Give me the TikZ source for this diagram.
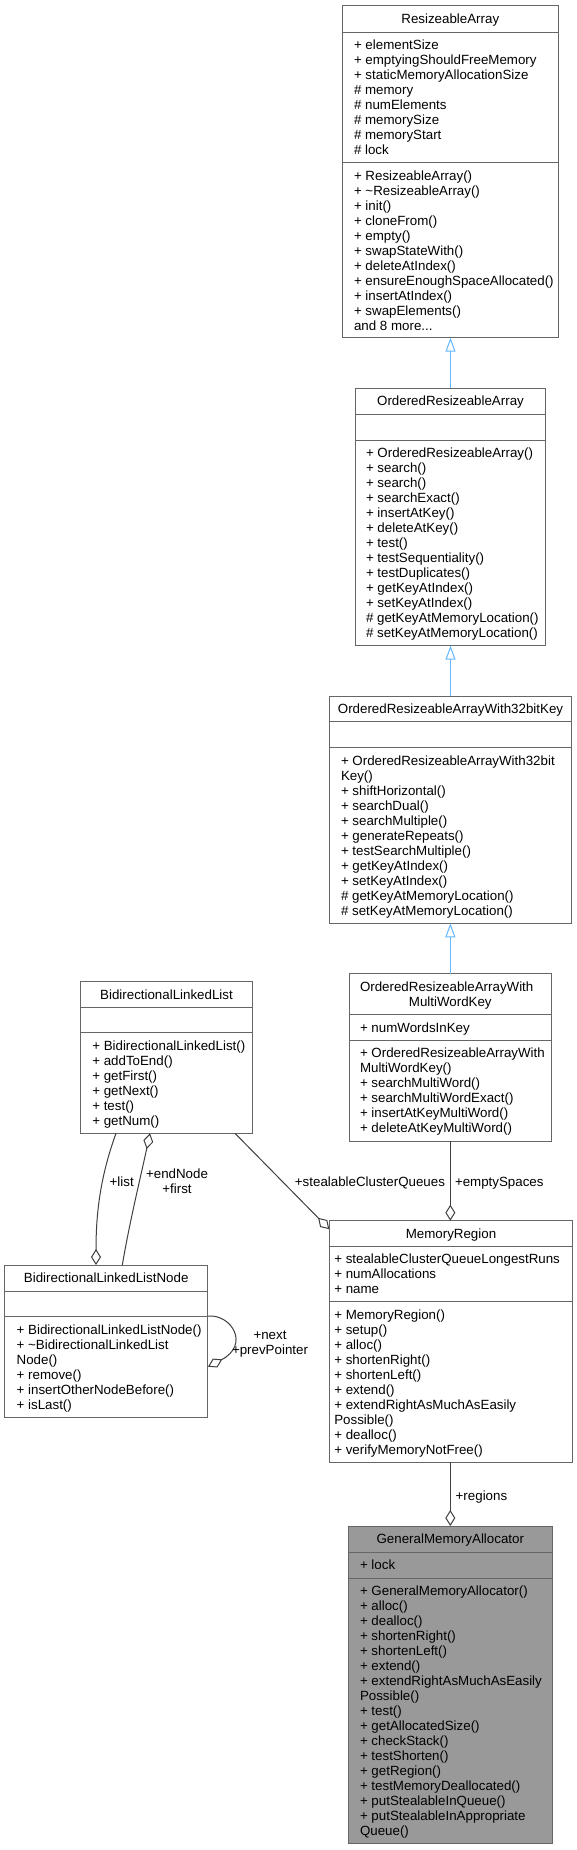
\documentclass[tikz,border=0pt]{standalone}
\usepackage{fontspec}
\setmainfont{Liberation Sans}
\usetikzlibrary{arrows.meta,calc}
\definecolor{boxborder}{HTML}{666666}
\definecolor{inhcol}{HTML}{63B8FF}
\definecolor{aggcol}{HTML}{404040}
\definecolor{gmafill}{HTML}{999999}
\newcommand{\umlrows}[1]{\vtop{\baselineskip=15pt\lineskiplimit=0pt\lineskip=0pt\halign{##\hfil\cr#1\crcr}}}
\newcommand{\ctrrows}[1]{\vtop{\baselineskip=15pt\lineskiplimit=0pt\lineskip=0pt\halign{\hfil##\hfil\cr#1\crcr}}}
\tikzset{
  umlbox/.style={draw=boxborder, line width=1pt, fill=white, rectangle, inner sep=0pt, outer sep=0pt, anchor=north west},
  sepline/.style={draw=boxborder, line width=1pt},
  txt/.style={inner sep=0pt, outer sep=0pt, font=\fontsize{13.33}{15}\selectfont, anchor=base west},
  ttl/.style={inner sep=0pt, outer sep=0pt, font=\fontsize{13.33}{15}\selectfont, anchor=base},
  inh/.style={draw=inhcol, line width=1pt, -{Triangle[open, length=14pt, width=10pt]}},
  agg/.style={draw=aggcol, line width=1pt, -{Diamond[open, length=16pt, width=10pt]}},
}
\begin{document}
\begin{tikzpicture}[x=1pt, y=-1pt]
\useasboundingbox (0,0) rectangle (577,1850);
\fill[white] (0,0) rectangle (577,1850);

% ResizeableArray
\node[umlbox, minimum width=215.3pt, minimum height=332pt] (ra) at (342.7,5.7) {};
\draw[sepline] (342.7,32) -- (558,32);
\draw[sepline] (342.7,162.7) -- (558,162.7);
\node[ttl] (rat) at (450.3,23.2) {ResizeableArray};
\node[txt] (raa) at (354,49.5) {\umlrows{+ elementSize\cr
+ emptyingShouldFreeMemory\cr
+ staticMemoryAllocationSize\cr
\# memory\cr
\# numElements\cr
\# memorySize\cr
\# memoryStart\cr
\# lock}};
\node[txt] (ram) at (354,180.2) {\umlrows{+ ResizeableArray()\cr
+ \textasciitilde ResizeableArray()\cr
+ init()\cr
+ cloneFrom()\cr
+ empty()\cr
+ swapStateWith()\cr
+ deleteAtIndex()\cr
+ ensureEnoughSpaceAllocated()\cr
+ insertAtIndex()\cr
+ swapElements()\cr
and 8 more...}};

% OrderedResizeableArray
\node[umlbox, minimum width=190.4pt, minimum height=257.4pt] (ora) at (355.3,388.3) {};
\draw[sepline] (355.3,414) -- (545.7,414);
\draw[sepline] (355.3,440) -- (545.7,440);
\node[ttl] (orat) at (450.5,405.8) {OrderedResizeableArray};
\node[txt] (oram) at (366,457.5) {\umlrows{+ OrderedResizeableArray()\cr
+ search()\cr
+ search()\cr
+ searchExact()\cr
+ insertAtKey()\cr
+ deleteAtKey()\cr
+ test()\cr
+ testSequentiality()\cr
+ testDuplicates()\cr
+ getKeyAtIndex()\cr
+ setKeyAtIndex()\cr
\# getKeyAtMemoryLocation()\cr
\# setKeyAtMemoryLocation()}};

% OrderedResizeableArrayWith32bitKey
\node[umlbox, minimum width=242.4pt, minimum height=227.3pt] (ok) at (329.3,696) {};
\draw[sepline] (329.3,721.7) -- (571.7,721.7);
\draw[sepline] (329.3,747.7) -- (571.7,747.7);
\node[ttl] (okt) at (450.5,713.5) {OrderedResizeableArrayWith32bitKey};
\node[txt] (okm) at (341,765.2) {\umlrows{+ OrderedResizeableArrayWith32bit\cr
Key()\cr
+ shiftHorizontal()\cr
+ searchDual()\cr
+ searchMultiple()\cr
+ generateRepeats()\cr
+ testSearchMultiple()\cr
+ getKeyAtIndex()\cr
+ setKeyAtIndex()\cr
\# getKeyAtMemoryLocation()\cr
\# setKeyAtMemoryLocation()}};

% OrderedResizeableArrayWithMultiWordKey
\node[umlbox, minimum width=202.7pt, minimum height=167.3pt] (mwk) at (349,973.7) {};
\draw[sepline] (349,1014.7) -- (551.7,1014.7);
\draw[sepline] (349,1040) -- (551.7,1040);
\node[txt] (mwkt1) at (360,991.2) {OrderedResizeableArrayWith};
\node[ttl] (mwkt2) at (450.3,1006.2) {MultiWordKey};
\node[txt] (mwka) at (360,1032.2) {+ numWordsInKey};
\node[txt] (mwkm) at (360,1057.5) {\umlrows{+ OrderedResizeableArrayWith\cr
MultiWordKey()\cr
+ searchMultiWord()\cr
+ searchMultiWordExact()\cr
+ insertAtKeyMultiWord()\cr
+ deleteAtKeyMultiWord()}};

% BidirectionalLinkedList
\node[umlbox, minimum width=171.6pt, minimum height=151.6pt] (bll) at (80.7,981.7) {};
\draw[sepline] (80.7,1007.3) -- (252.3,1007.3);
\draw[sepline] (80.7,1032.3) -- (252.3,1032.3);
\node[ttl] (bllt) at (166.5,999.2) {BidirectionalLinkedList};
\node[txt] (bllm) at (92.3,1050) {\umlrows{+ BidirectionalLinkedList()\cr
+ addToEnd()\cr
+ getFirst()\cr
+ getNext()\cr
+ test()\cr
+ getNum()}};

% BidirectionalLinkedListNode
\node[umlbox, minimum width=203pt, minimum height=152pt] (blln) at (4.7,1265) {};
\draw[sepline] (4.7,1291) -- (207.7,1291);
\draw[sepline] (4.7,1316) -- (207.7,1316);
\node[ttl] (bllnt) at (106.2,1282.5) {BidirectionalLinkedListNode};
\node[txt] (bllnm) at (16.7,1334.5) {\umlrows{+ BidirectionalLinkedListNode()\cr
+ \textasciitilde BidirectionalLinkedList\cr
Node()\cr
+ remove()\cr
+ insertOtherNodeBefore()\cr
+ isLast()}};

% MemoryRegion
\node[umlbox, minimum width=243.4pt, minimum height=241.6pt] (mr) at (329.3,1220.7) {};
\draw[sepline] (329.3,1246) -- (572.7,1246);
\draw[sepline] (329.3,1301) -- (572.7,1301);
\node[ttl] (mrt) at (451,1238.2) {MemoryRegion};
\node[txt] (mra) at (334.3,1263.8) {\umlrows{+ stealableClusterQueueLongestRuns\cr
+ numAllocations\cr
+ name}};
\node[txt] (mrm) at (334.3,1319) {\umlrows{+ MemoryRegion()\cr
+ setup()\cr
+ alloc()\cr
+ shortenRight()\cr
+ shortenLeft()\cr
+ extend()\cr
+ extendRightAsMuchAsEasily\cr
Possible()\cr
+ dealloc()\cr
+ verifyMemoryNotFree()}};

% GeneralMemoryAllocator
\node[umlbox, fill=gmafill, minimum width=204pt, minimum height=317.3pt] (gma) at (348.3,1526) {};
\draw[sepline] (348.3,1552) -- (552.3,1552);
\draw[sepline] (348.3,1578) -- (552.3,1578);
\node[ttl] (gmat) at (450.3,1543.5) {GeneralMemoryAllocator};
\node[txt] (gmaa) at (360,1569.5) {+ lock};
\node[txt] (gmam) at (360,1595.5) {\umlrows{+ GeneralMemoryAllocator()\cr
+ alloc()\cr
+ dealloc()\cr
+ shortenRight()\cr
+ shortenLeft()\cr
+ extend()\cr
+ extendRightAsMuchAsEasily\cr
Possible()\cr
+ test()\cr
+ getAllocatedSize()\cr
+ checkStack()\cr
+ testShorten()\cr
+ getRegion()\cr
+ testMemoryDeallocated()\cr
+ putStealableInQueue()\cr
+ putStealableInAppropriate\cr
Queue()}};

% inheritance
\draw[inh] (ora.north) -- (ora.north |- ra.south);
\draw[inh] (ok.north) -- (ok.north |- ora.south);
\draw[inh] (mwk.north) -- (mwk.north |- ok.south);

% aggregation
\draw[agg] (mwk.south) -- (mwk.south |- mr.north);
\draw[agg] (gma.north |- mr.south) -- (gma.north);
\draw[agg] ($(bll.south west)+(154.3,0)$) -- ($(mr.north west)+(0,8.5)$);
\draw[agg] ($(bll.south west)+(35.3,0)$) .. controls ($(bll.south west)+(19,45)$) and ($(blln.north west)+(91.3,-50)$) .. ($(blln.north west)+(91.3,0)$);
\draw[agg] ($(blln.north west)+(117.6,0)$) .. controls ($(blln.north west)+(125.3,-45)$) and ($(bll.south west)+(60.3,42)$) .. ($(bll.south west)+(69.3,0)$);
\draw[agg] ($(blln.north east)+(0,51)$) .. controls ($(blln.north east)+(24.3,49)$) and ($(blln.north east)+(42.3,80)$) .. ($(blln.north east)+(0.3,101.7)$);

% labels
\node[txt, anchor=base east] (lscq) at (445,1186) {+stealableClusterQueues};
\node[txt] (les) at (455,1186) {+emptySpaces};
\node[txt] (lreg) at (455.7,1500.5) {+regions};
\node[ttl] (llist) at (121.7,1186) {+list};
\node[ttl] (lend) at (177,1178.5) {\ctrrows{+endNode\cr +first}};
\node[ttl] (lnext) at (270,1339) {\ctrrows{+next\cr +prevPointer}};
\end{tikzpicture}
\end{document}
